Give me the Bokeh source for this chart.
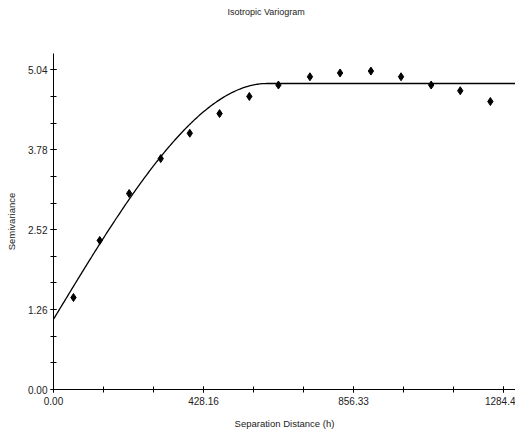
from bokeh.plotting import figure
from bokeh.models import FixedTicker, Range1d, Title
from bokeh.embed import file_html
from bokeh.resources import INLINE
import numpy as np

# Experimental variogram (lag distance, semivariance)
lag_h = [57, 132, 216, 306, 389, 474, 559, 642, 732, 818, 906, 992, 1078, 1161, 1247]
gamma = [1.45, 2.35, 3.09, 3.64, 4.04, 4.35, 4.62, 4.80, 4.93, 4.99, 5.02, 4.93, 4.80, 4.71, 4.54]

# Spherical model parameters
nugget = 1.107
sill = 4.824
model_range = 610.0

x_major = [0.0, 428.16, 856.33, 1284.49]
x_labels = ["0.00", "428.16", "856.33", "1284.4"]
y_major = [0.0, 1.26, 2.52, 3.78, 5.04]
y_labels = ["0.00", "1.26", "2.52", "3.78", "5.04"]

FONT = "Liberation Sans"

p = figure(width=515, height=436, output_backend="svg", toolbar_location=None,
           x_range=Range1d(0, 1318.7), y_range=Range1d(0, 5.297),
           min_border_left=53, min_border_right=0, min_border_top=53, min_border_bottom=47)

# spacer between frame and title, then the title itself
p.add_layout(Title(text=" ", text_font_size="1px", standoff=32), "above")
p.add_layout(Title(text="Isotropic Variogram", align="left", offset=174, standoff=4,
                   text_font=FONT, text_font_size="9px", text_font_style="normal",
                   text_color="#222222"), "above")

p.outline_line_color = None
p.xgrid.visible = False
p.ygrid.visible = False

# model curve
hh = np.linspace(0, 1318.7, 400)
r = np.minimum(hh / model_range, 1.0)
gm = nugget + (sill - nugget) * (1.5 * r - 0.5 * r ** 3)
p.line(hh, gm, line_color="black", line_width=1.3)

p.scatter(lag_h, gamma, marker="diamond", size=8, fill_color="black", line_color="black")

x_minor = [x_major[0] + k * (x_major[1] - x_major[0]) / 3 for k in range(10)]
y_minor = [k * 0.42 for k in range(13)]
p.xaxis.ticker = FixedTicker(ticks=x_major, minor_ticks=x_minor)
p.yaxis.ticker = FixedTicker(ticks=y_major, minor_ticks=y_minor)
p.xaxis.major_label_overrides = dict(zip(x_major, x_labels))
p.yaxis.major_label_overrides = dict(zip(y_major, y_labels))

for ax in (p.xaxis, p.yaxis):
    ax.axis_line_color = "black"
    ax.major_tick_line_color = "black"
    ax.minor_tick_line_color = "black"
    ax.major_tick_in = 3
    ax.major_tick_out = 3
    ax.minor_tick_in = 3
    ax.minor_tick_out = 3
    ax.major_label_text_font = FONT
    ax.major_label_text_font_size = "10px"
    ax.major_label_text_color = "#222222"
    ax.axis_label_text_font = FONT
    ax.axis_label_text_font_size = "9.5px"
    ax.axis_label_text_font_style = "normal"
    ax.axis_label_text_color = "#222222"

p.xaxis.axis_label = "Separation Distance (h)"
p.yaxis.axis_label = "Semivariance"
p.xaxis.major_label_standoff = 4
p.yaxis.major_label_standoff = 3
p.xaxis.axis_label_standoff = 10
p.yaxis.axis_label_standoff = 8

open("out.html", "w").write(file_html(p, INLINE))
